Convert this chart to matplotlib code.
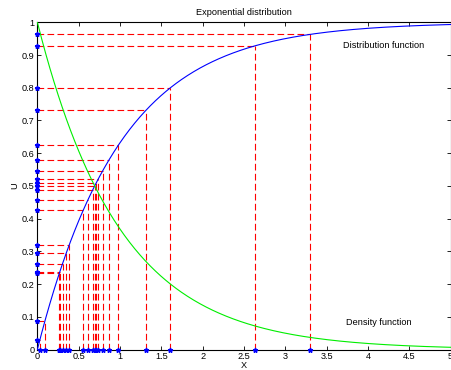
import numpy as np
import matplotlib
matplotlib.use("Agg")
import matplotlib.pyplot as plt

plt.rcParams['font.family'] = ['Liberation Sans', 'DejaVu Sans']

# sampled uniform values (y axis) and corresponding exponential samples (x axis)
u_samples = [0.030, 0.086, 0.233, 0.238, 0.262, 0.296, 0.318, 0.425, 0.458, 0.488,
             0.499, 0.508, 0.520, 0.546, 0.578, 0.624, 0.731, 0.800, 0.928, 0.963]
x_samples = [0.030, 0.090, 0.265, 0.272, 0.304, 0.351, 0.383, 0.553, 0.612, 0.670,
             0.691, 0.710, 0.734, 0.790, 0.863, 0.979, 1.313, 1.609, 2.633, 3.297]

x_ticks = [0, 0.5, 1, 1.5, 2, 2.5, 3, 3.5, 4, 4.5, 5]
x_tick_labels = ['0', '0.5', '1', '1.5', '2', '2.5', '3', '3.5', '4', '4.5', '5']
y_ticks = [0, 0.1, 0.2, 0.3, 0.4, 0.5, 0.6, 0.7, 0.8, 0.9, 1]
y_tick_labels = ['0', '0.1', '0.2', '0.3', '0.4', '0.5', '0.6', '0.7', '0.8', '0.9', '1']

lam = 1.0
xg = np.linspace(0, 5, 400)
cdf = 1 - np.exp(-lam * xg)
pdf = lam * np.exp(-lam * xg)

fig = plt.figure(figsize=(4.51, 3.70), dpi=100)
ax = fig.add_axes([0.0829, 0.0554, 0.9164, 0.8843])

fs = 6.6
dash = (0, (6, 3))
for xs, us in zip(x_samples, u_samples):
    ax.plot([xs, xs], [0, us], color='red', ls=dash, lw=0.8, zorder=2)
    ax.plot([0, xs], [us, us], color='red', ls=dash, lw=0.8, zorder=2)

ax.plot(xg, cdf, color='blue', lw=0.8, zorder=3)
ax.plot(xg, pdf, color='#00ee00', lw=0.8, zorder=3)

ax.plot(x_samples, [0] * len(x_samples), ls='none', marker='*', color='blue',
        ms=3.5, mec='blue', zorder=4, clip_on=False)
ax.plot([0] * len(u_samples), u_samples, ls='none', marker='*', color='blue',
        ms=3.5, mec='blue', zorder=4, clip_on=False)

ax.text(3.70, 0.928, 'Distribution function', fontsize=fs, va='center', ha='left')
ax.text(3.73, 0.081, 'Density function', fontsize=fs, va='center', ha='left')

ax.set_xlim(0, 5)
ax.set_ylim(0, 1)
ax.set_xticks(x_ticks)
ax.set_xticklabels(x_tick_labels)
ax.set_yticks(y_ticks)
ax.set_yticklabels(y_tick_labels)
ax.tick_params(direction='in', top=True, right=True, length=3, width=0.6,
               labelsize=fs, pad=2)
for s in ax.spines.values():
    s.set_linewidth(0.8)
ax.set_title('Exponential distribution', fontsize=fs, pad=5)
ax.set_xlabel('X', fontsize=fs, labelpad=0)
ax.set_ylabel('U', fontsize=fs, labelpad=2)

fig.savefig('out.png', dpi=100)
